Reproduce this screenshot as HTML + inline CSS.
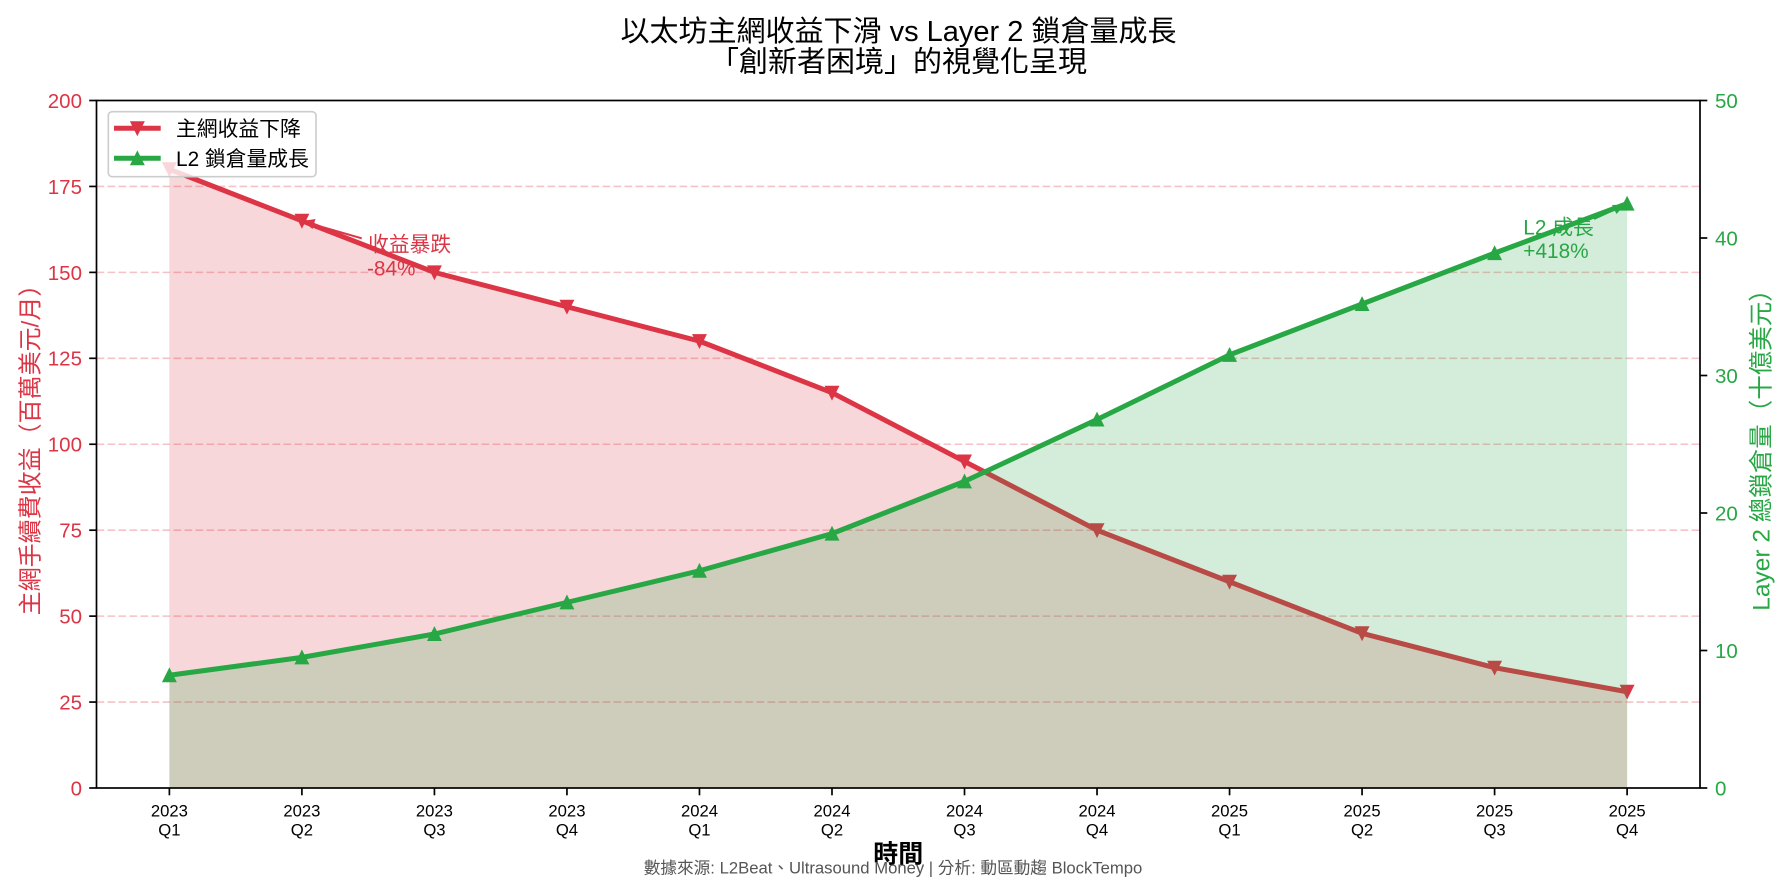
<!DOCTYPE html>
<html>
<head>
<meta charset="utf-8">
<style>
  html,body{margin:0;padding:0;background:#fff;}
  svg{display:block;}
  text{font-family:"Liberation Sans","Noto Sans CJK TC",sans-serif;}
</style>
</head>
<body>
<svg width="1786" height="891" viewBox="0 0 1786 891" xmlns="http://www.w3.org/2000/svg">
  <rect x="0" y="0" width="1786" height="891" fill="#fff"/>

  <!-- Title -->
  <text x="898.5" y="41.2" font-size="29" text-anchor="middle" fill="#000">以太坊主網收益下滑 vs Layer 2 鎖倉量成長</text>
  <text x="898.5" y="71.7" font-size="29" text-anchor="middle" fill="#000">「創新者困境」的視覺化呈現</text>

  <!-- Red fill (ax1) -->
  <polygon fill="#dc3545" fill-opacity="0.2" points="169.39,788 169.39,169.25 301.91,220.81 434.43,272.38 566.95,306.75 699.47,341.13 831.99,392.69 964.51,461.44 1097.03,530.19 1229.55,581.75 1362.07,633.31 1494.59,667.69 1627.11,691.75 1627.11,788"/>

  <!-- Grid -->
  <g stroke="#dc3545" stroke-opacity="0.3" stroke-width="1.6" stroke-dasharray="7.7,3.3">
    <line x1="96.5" y1="702.06" x2="1700" y2="702.06"/>
    <line x1="96.5" y1="616.13" x2="1700" y2="616.13"/>
    <line x1="96.5" y1="530.19" x2="1700" y2="530.19"/>
    <line x1="96.5" y1="444.25" x2="1700" y2="444.25"/>
    <line x1="96.5" y1="358.31" x2="1700" y2="358.31"/>
    <line x1="96.5" y1="272.38" x2="1700" y2="272.38"/>
    <line x1="96.5" y1="186.44" x2="1700" y2="186.44"/>
  </g>

  <!-- Red line -->
  <polyline fill="none" stroke="#dc3545" stroke-width="5" stroke-linejoin="round" stroke-linecap="round" points="169.39,169.25 301.91,220.81 434.43,272.38 566.95,306.75 699.47,341.13 831.99,392.69 964.51,461.44 1097.03,530.19 1229.55,581.75 1362.07,633.31 1494.59,667.69 1627.11,691.75"/>
  <g fill="#dc3545" stroke="#dc3545" stroke-width="1.5" stroke-linejoin="miter">
    <polygon points="163.14,163.0 175.64,163.0 169.39,175.5"/>
    <polygon points="295.66,214.56 308.16,214.56 301.91,227.06"/>
    <polygon points="428.18,266.13 440.68,266.13 434.43,278.63"/>
    <polygon points="560.7,300.5 573.2,300.5 566.95,313.0"/>
    <polygon points="693.22,334.88 705.72,334.88 699.47,347.38"/>
    <polygon points="825.74,386.44 838.24,386.44 831.99,398.94"/>
    <polygon points="958.26,455.19 970.76,455.19 964.51,467.69"/>
    <polygon points="1090.78,523.94 1103.28,523.94 1097.03,536.44"/>
    <polygon points="1223.3,575.5 1235.8,575.5 1229.55,588.0"/>
    <polygon points="1355.82,627.06 1368.32,627.06 1362.07,639.56"/>
    <polygon points="1488.34,661.44 1500.84,661.44 1494.59,673.94"/>
    <polygon points="1620.86,685.5 1633.36,685.5 1627.11,698.0"/>
  </g>

  <!-- Red annotation -->
  <line x1="361.7" y1="238.3" x2="310" y2="223.5" stroke="#dc3545" stroke-width="2"/>
  <polygon points="302.5,221 315.5,219 312.5,229" fill="#dc3545"/>
  <text x="368" y="251.6" font-size="20.8" fill="#dc3545">收益暴跌</text>
  <text x="367" y="275.5" font-size="20.8" fill="#dc3545">-84%</text>

  <!-- Green fill (ax2) -->
  <polygon fill="#28a745" fill-opacity="0.2" points="169.39,788 169.39,675.25 301.91,657.38 434.43,634.0 566.95,602.38 699.47,570.75 831.99,533.63 964.51,481.38 1097.03,419.5 1229.55,354.88 1362.07,304.0 1494.59,253.13 1627.11,203.63 1627.11,788"/>

  <!-- Green line -->
  <polyline fill="none" stroke="#28a745" stroke-width="5" stroke-linejoin="round" stroke-linecap="round" points="169.39,675.25 301.91,657.38 434.43,634.0 566.95,602.38 699.47,570.75 831.99,533.63 964.51,481.38 1097.03,419.5 1229.55,354.88 1362.07,304.0 1494.59,253.13 1627.11,203.63"/>
  <g fill="#28a745" stroke="#28a745" stroke-width="1.5" stroke-linejoin="miter">
    <polygon points="163.14,681.5 175.64,681.5 169.39,669.0"/>
    <polygon points="295.66,663.63 308.16,663.63 301.91,651.13"/>
    <polygon points="428.18,640.25 440.68,640.25 434.43,627.75"/>
    <polygon points="560.7,608.63 573.2,608.63 566.95,596.13"/>
    <polygon points="693.22,577.0 705.72,577.0 699.47,564.5"/>
    <polygon points="825.74,539.88 838.24,539.88 831.99,527.38"/>
    <polygon points="958.26,487.63 970.76,487.63 964.51,475.13"/>
    <polygon points="1090.78,425.75 1103.28,425.75 1097.03,413.25"/>
    <polygon points="1223.3,361.13 1235.8,361.13 1229.55,348.63"/>
    <polygon points="1355.82,310.25 1368.32,310.25 1362.07,297.75"/>
    <polygon points="1488.34,259.38 1500.84,259.38 1494.59,246.88"/>
    <polygon points="1620.86,209.88 1633.36,209.88 1627.11,197.38"/>
  </g>

  <!-- Green annotation -->
  <line x1="1594" y1="219" x2="1618" y2="208" stroke="#28a745" stroke-width="2"/>
  <polygon points="1625,204.5 1612,205 1616.5,214" fill="#28a745"/>
  <text x="1523.3" y="234.3" font-size="20.8" fill="#28a745">L2 成長</text>
  <text x="1523.3" y="258" font-size="20.8" fill="#28a745">+418%</text>

  <!-- Spines -->
  <rect x="96.5" y="100.5" width="1603.5" height="687.5" fill="none" stroke="#000" stroke-width="1.7"/>

  <!-- Ticks -->
  <g stroke="#000" stroke-width="1.7">
    <line x1="89.2" y1="788" x2="96.5" y2="788"/>
    <line x1="89.2" y1="702.06" x2="96.5" y2="702.06"/>
    <line x1="89.2" y1="616.13" x2="96.5" y2="616.13"/>
    <line x1="89.2" y1="530.19" x2="96.5" y2="530.19"/>
    <line x1="89.2" y1="444.25" x2="96.5" y2="444.25"/>
    <line x1="89.2" y1="358.31" x2="96.5" y2="358.31"/>
    <line x1="89.2" y1="272.38" x2="96.5" y2="272.38"/>
    <line x1="89.2" y1="186.44" x2="96.5" y2="186.44"/>
    <line x1="89.2" y1="100.5" x2="96.5" y2="100.5"/>
    <line x1="1700" y1="788" x2="1707.3" y2="788"/>
    <line x1="1700" y1="650.5" x2="1707.3" y2="650.5"/>
    <line x1="1700" y1="513" x2="1707.3" y2="513"/>
    <line x1="1700" y1="375.5" x2="1707.3" y2="375.5"/>
    <line x1="1700" y1="238" x2="1707.3" y2="238"/>
    <line x1="1700" y1="100.5" x2="1707.3" y2="100.5"/>
    <line x1="169.39" y1="788" x2="169.39" y2="795.3"/>
    <line x1="301.91" y1="788" x2="301.91" y2="795.3"/>
    <line x1="434.43" y1="788" x2="434.43" y2="795.3"/>
    <line x1="566.95" y1="788" x2="566.95" y2="795.3"/>
    <line x1="699.47" y1="788" x2="699.47" y2="795.3"/>
    <line x1="831.99" y1="788" x2="831.99" y2="795.3"/>
    <line x1="964.51" y1="788" x2="964.51" y2="795.3"/>
    <line x1="1097.03" y1="788" x2="1097.03" y2="795.3"/>
    <line x1="1229.55" y1="788" x2="1229.55" y2="795.3"/>
    <line x1="1362.07" y1="788" x2="1362.07" y2="795.3"/>
    <line x1="1494.59" y1="788" x2="1494.59" y2="795.3"/>
    <line x1="1627.11" y1="788" x2="1627.11" y2="795.3"/>
  </g>

  <!-- Left tick labels -->
  <g font-size="20.5" fill="#dc3545" text-anchor="end">
    <text x="82" y="795.4">0</text>
    <text x="82" y="709.5">25</text>
    <text x="82" y="623.5">50</text>
    <text x="82" y="537.6">75</text>
    <text x="82" y="451.6">100</text>
    <text x="82" y="365.7">125</text>
    <text x="82" y="279.8">150</text>
    <text x="82" y="193.8">175</text>
    <text x="82" y="107.9">200</text>
  </g>

  <!-- Right tick labels -->
  <g font-size="20.5" fill="#28a745" text-anchor="start">
    <text x="1715" y="795.4">0</text>
    <text x="1715" y="657.9">10</text>
    <text x="1715" y="520.4">20</text>
    <text x="1715" y="382.9">30</text>
    <text x="1715" y="245.4">40</text>
    <text x="1715" y="107.9">50</text>
  </g>

  <!-- X tick labels -->
  <g font-size="16.67" fill="#000" text-anchor="middle">
    <text x="169.39" y="816.7">2023</text><text x="169.39" y="835.3">Q1</text>
    <text x="301.91" y="816.7">2023</text><text x="301.91" y="835.3">Q2</text>
    <text x="434.43" y="816.7">2023</text><text x="434.43" y="835.3">Q3</text>
    <text x="566.95" y="816.7">2023</text><text x="566.95" y="835.3">Q4</text>
    <text x="699.47" y="816.7">2024</text><text x="699.47" y="835.3">Q1</text>
    <text x="831.99" y="816.7">2024</text><text x="831.99" y="835.3">Q2</text>
    <text x="964.51" y="816.7">2024</text><text x="964.51" y="835.3">Q3</text>
    <text x="1097.03" y="816.7">2024</text><text x="1097.03" y="835.3">Q4</text>
    <text x="1229.55" y="816.7">2025</text><text x="1229.55" y="835.3">Q1</text>
    <text x="1362.07" y="816.7">2025</text><text x="1362.07" y="835.3">Q2</text>
    <text x="1494.59" y="816.7">2025</text><text x="1494.59" y="835.3">Q3</text>
    <text x="1627.11" y="816.7">2025</text><text x="1627.11" y="835.3">Q4</text>
  </g>

  <!-- Axis labels -->
  <text x="898.3" y="862.5" font-size="25" font-weight="bold" text-anchor="middle" fill="#000">時間</text>
  <text transform="translate(38.5,444) rotate(-90)" x="0" y="0" font-size="24" text-anchor="middle" fill="#dc3545">主網手續費收益（百萬美元/月）</text>
  <text transform="translate(1769.5,444) rotate(-90)" x="0" y="0" font-size="24.5" text-anchor="middle" fill="#28a745">Layer 2 總鎖倉量（十億美元）</text>

  <!-- Footer -->
  <text x="893" y="873.7" font-size="16.67" text-anchor="middle" fill="#555">數據來源: L2Beat、Ultrasound Money | 分析: 動區動趨 BlockTempo</text>

  <!-- Legend -->
  <rect x="108.3" y="111.7" width="207.7" height="65" rx="4" ry="4" fill="#fff" fill-opacity="0.8" stroke="#cccccc" stroke-width="1.6"/>
  <line x1="114" y1="128.3" x2="160.7" y2="128.3" stroke="#dc3545" stroke-width="5"/>
  <polygon points="131.1,122.05 143.6,122.05 137.35,134.55" fill="#dc3545" stroke="#dc3545" stroke-width="1.5"/>
  <line x1="114" y1="158.3" x2="160.7" y2="158.3" stroke="#28a745" stroke-width="5"/>
  <polygon points="131.1,164.55 143.6,164.55 137.35,152.05" fill="#28a745" stroke="#28a745" stroke-width="1.5"/>
  <text x="176" y="136" font-size="20.8" fill="#000">主網收益下降</text>
  <text x="176" y="166" font-size="20.8" fill="#000">L2 鎖倉量成長</text>
</svg>
</body>
</html>
